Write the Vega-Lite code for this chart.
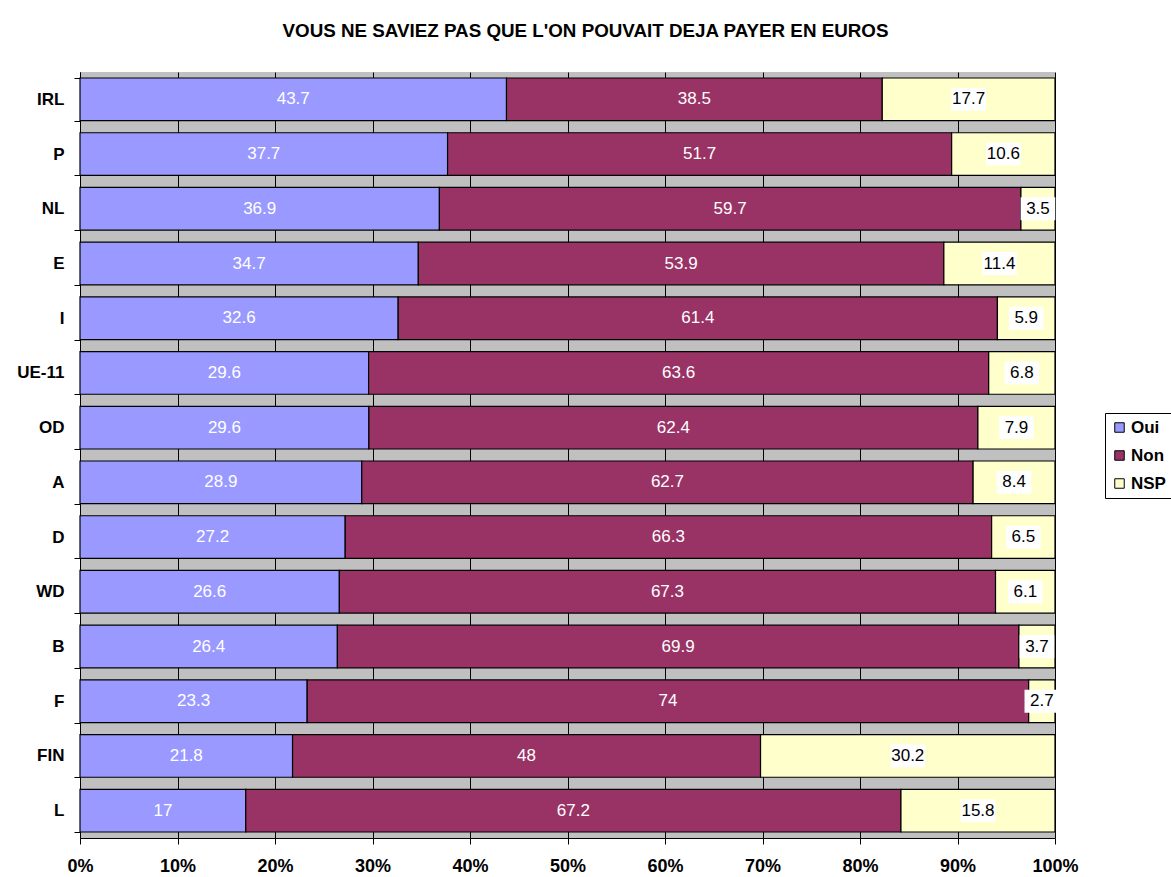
{
  "$schema": "https://vega.github.io/schema/vega-lite/v6.json",
  "width": 975,
  "height": 766,
  "autosize": "none",
  "padding": {"left": 80, "top": 72, "right": 116, "bottom": 39},
  "background": "white",
  "title": {
    "text": "VOUS NE SAVIEZ PAS QUE L'ON POUVAIT DEJA PAYER EN EUROS",
    "font": "Liberation Sans",
    "fontSize": 18.8,
    "fontWeight": "bold",
    "color": "black",
    "anchor": "middle",
    "frame": "group",
    "dx": 18,
    "offset": 22
  },
  "config": {
    "view": {"fill": "#C0C0C0", "stroke": null},
    "font": "Liberation Sans"
  },
  "data": {
    "values": [
      {"pays": "IRL", "reponse": "Oui", "valeur": 43.7},
      {"pays": "IRL", "reponse": "Non", "valeur": 38.5},
      {"pays": "IRL", "reponse": "NSP", "valeur": 17.7},
      {"pays": "P", "reponse": "Oui", "valeur": 37.7},
      {"pays": "P", "reponse": "Non", "valeur": 51.7},
      {"pays": "P", "reponse": "NSP", "valeur": 10.6},
      {"pays": "NL", "reponse": "Oui", "valeur": 36.9},
      {"pays": "NL", "reponse": "Non", "valeur": 59.7},
      {"pays": "NL", "reponse": "NSP", "valeur": 3.5},
      {"pays": "E", "reponse": "Oui", "valeur": 34.7},
      {"pays": "E", "reponse": "Non", "valeur": 53.9},
      {"pays": "E", "reponse": "NSP", "valeur": 11.4},
      {"pays": "I", "reponse": "Oui", "valeur": 32.6},
      {"pays": "I", "reponse": "Non", "valeur": 61.4},
      {"pays": "I", "reponse": "NSP", "valeur": 5.9},
      {"pays": "UE-11", "reponse": "Oui", "valeur": 29.6},
      {"pays": "UE-11", "reponse": "Non", "valeur": 63.6},
      {"pays": "UE-11", "reponse": "NSP", "valeur": 6.8},
      {"pays": "OD", "reponse": "Oui", "valeur": 29.6},
      {"pays": "OD", "reponse": "Non", "valeur": 62.4},
      {"pays": "OD", "reponse": "NSP", "valeur": 7.9},
      {"pays": "A", "reponse": "Oui", "valeur": 28.9},
      {"pays": "A", "reponse": "Non", "valeur": 62.7},
      {"pays": "A", "reponse": "NSP", "valeur": 8.4},
      {"pays": "D", "reponse": "Oui", "valeur": 27.2},
      {"pays": "D", "reponse": "Non", "valeur": 66.3},
      {"pays": "D", "reponse": "NSP", "valeur": 6.5},
      {"pays": "WD", "reponse": "Oui", "valeur": 26.6},
      {"pays": "WD", "reponse": "Non", "valeur": 67.3},
      {"pays": "WD", "reponse": "NSP", "valeur": 6.1},
      {"pays": "B", "reponse": "Oui", "valeur": 26.4},
      {"pays": "B", "reponse": "Non", "valeur": 69.9},
      {"pays": "B", "reponse": "NSP", "valeur": 3.7},
      {"pays": "F", "reponse": "Oui", "valeur": 23.3},
      {"pays": "F", "reponse": "Non", "valeur": 74},
      {"pays": "F", "reponse": "NSP", "valeur": 2.7},
      {"pays": "FIN", "reponse": "Oui", "valeur": 21.8},
      {"pays": "FIN", "reponse": "Non", "valeur": 48},
      {"pays": "FIN", "reponse": "NSP", "valeur": 30.2},
      {"pays": "L", "reponse": "Oui", "valeur": 17},
      {"pays": "L", "reponse": "Non", "valeur": 67.2},
      {"pays": "L", "reponse": "NSP", "valeur": 15.8}
    ]
  },
  "transform": [
    {"calculate": "indexof(['Oui','Non','NSP'], datum.reponse)", "as": "rang"},
    {"stack": "valeur", "groupby": ["pays"], "sort": [{"field": "rang", "order": "ascending"}], "as": ["x0", "x1"], "offset": "normalize"},
    {"calculate": "(datum.x0 + datum.x1) / 2", "as": "mid"}
  ],
  "encoding": {
    "y": {
      "field": "pays",
      "type": "nominal",
      "sort": null,
      "scale": {"paddingInner": 0.22, "paddingOuter": 0.11},
      "axis": {
        "title": null,
        "domainColor": "black",
        "tickColor": "black",
        "tickSize": 6,
        "tickBand": "extent",
        "labelFontSize": 17,
        "labelFontWeight": "bold",
        "labelColor": "black",
        "labelPadding": 10,
        "grid": false
      }
    }
  },
  "layer": [
    {
      "mark": {"type": "bar", "stroke": "black", "strokeWidth": 1.2},
      "encoding": {
        "x": {
          "field": "x0",
          "type": "quantitative",
          "scale": {"domain": [0, 1], "nice": false, "zero": true},
          "axis": {
            "title": null,
            "format": "%",
            "values": [0, 0.1, 0.2, 0.3, 0.4, 0.5, 0.6, 0.7, 0.8, 0.9, 1],
            "grid": true,
            "gridColor": "black",
            "gridOpacity": 1,
            "gridWidth": 1,
            "domainColor": "black",
            "tickColor": "black",
            "tickSize": 6,
            "labelFontSize": 18,
            "labelFontWeight": "bold",
            "labelColor": "black",
            "labelPadding": 13,
            "labelFlush": false
          }
        },
        "x2": {"field": "x1"},
        "color": {
          "field": "reponse",
          "type": "nominal",
          "scale": {"domain": ["Oui", "Non", "NSP"], "range": ["#9999FF", "#993366", "#FFFFCC"]},
          "legend": {
            "title": null,
            "orient": "none",
            "legendX": 1025,
            "legendY": 341,
            "symbolType": "square",
            "symbolSize": 90,
            "symbolStrokeColor": "black",
            "symbolStrokeWidth": 1,
            "symbolOpacity": 1,
            "labelFontSize": 17,
            "labelFontWeight": "bold",
            "labelColor": "black",
            "labelOffset": 3,
            "rowPadding": 10,
            "strokeColor": "black",
            "fillColor": "white",
            "padding": 6,
            "cornerRadius": 0
          }
        }
      }
    },
    {
      "transform": [{"filter": "datum.reponse != 'NSP'"}],
      "mark": {"type": "text", "color": "white", "fontSize": 17, "align": "center", "baseline": "middle"},
      "encoding": {
        "x": {"field": "mid", "type": "quantitative"},
        "text": {"field": "valeur", "type": "quantitative"}
      }
    },
    {
      "transform": [{"filter": "datum.reponse == 'NSP'"}],
      "mark": {"type": "point", "shape": "M-1,-0.66H1V0.66H-1Z", "filled": true, "color": "white", "opacity": 1, "size": 1200},
      "encoding": {
        "x": {"field": "mid", "type": "quantitative"}
      }
    },
    {
      "transform": [{"filter": "datum.reponse == 'NSP'"}],
      "mark": {"type": "text", "color": "black", "fontSize": 17, "align": "center", "baseline": "middle"},
      "encoding": {
        "x": {"field": "mid", "type": "quantitative"},
        "text": {"field": "valeur", "type": "quantitative"}
      }
    }
  ]
}
